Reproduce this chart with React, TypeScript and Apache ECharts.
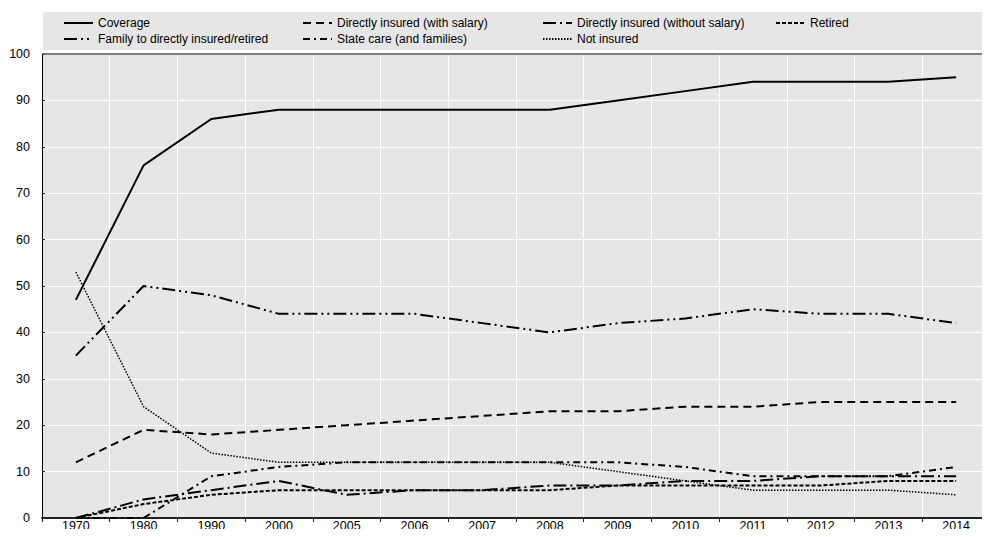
import React, { useEffect, useRef } from "react";
import * as echarts from "echarts";

const years = ["1970", "1980", "1990", "2000", "2005", "2006", "2007", "2008", "2009", "2010", "2011", "2012", "2013", "2014"];
const coverage = [47, 76, 86, 88, 88, 88, 88, 88, 90, 92, 94, 94, 94, 95];
const withSalary = [12, 19, 18, 19, 20, 21, 22, 23, 23, 24, 24, 25, 25, 25];
const withoutSalary = [0, 4, 6, 8, 5, 6, 6, 7, 7, 8, 8, 9, 9, 9];
const retired = [0, 3, 5, 6, 6, 6, 6, 6, 7, 7, 7, 7, 8, 8];
const family = [35, 50, 48, 44, 44, 44, 42, 40, 42, 43, 45, 44, 44, 42];
const stateCare = [0, 0, 9, 11, 12, 12, 12, 12, 12, 11, 9, 9, 9, 11];
const notInsured = [53, 24, 14, 12, 12, 12, 12, 12, 10, 8, 6, 6, 6, 5];
const yTicks = [0, 100, 10];

const FONT = "'Liberation Sans', Arial, sans-serif";

export default function App() {
  const ref = useRef<HTMLDivElement>(null);
  useEffect(() => {
    if (!ref.current) return;
    const chart = echarts.init(ref.current, null, { renderer: "svg" });
    const mk = (name: string, data: number[], type: any, width = 2) => ({
      name,
      type: "line",
      data,
      symbol: "none",
      showSymbol: false,
      lineStyle: { color: "#000", width, type },
      itemStyle: { color: "#000" },
      emphasis: { disabled: true },
    });
    const legendCommon = {
      orient: "vertical",
      top: 16,
      itemWidth: 29,
      itemHeight: 10,
      itemGap: 2,
      padding: 0,
      selectedMode: false,
      itemStyle: { opacity: 0 },
      textStyle: { fontFamily: FONT, fontSize: 12, color: "#000", lineHeight: 14 },
    };
    chart.setOption({
      animation: false,
      graphic: [
        { type: "rect", shape: { x: 43, y: 12, width: 960, height: 38 }, style: { fill: "#e6e6e6" }, z: -10 },
        { type: "line", shape: { x1: 42, y1: 54, x2: 1000, y2: 54 }, style: { stroke: "#555", lineWidth: 1.5 }, z: 10 },
      ],
      legend: [
        { ...legendCommon, left: 63, data: ["Coverage", "Family to directly insured/retired"] },
        { ...legendCommon, left: 302, data: ["Directly insured (with salary)", "State care (and families)"] },
        { ...legendCommon, left: 542, data: ["Directly insured (without salary)", "Not insured"] },
        { ...legendCommon, left: 775, data: ["Retired"] },
      ],
      grid: {
        left: 42,
        top: 54,
        width: 957,
        height: 464,
        show: true,
        backgroundColor: "#e6e6e6",
        borderWidth: 0,
        containLabel: false,
      },
      xAxis: {
        type: "category",
        data: years,
        boundaryGap: true,
        axisLine: { show: true, lineStyle: { color: "#222", width: 2 } },
        axisTick: { show: true, length: 4, lineStyle: { color: "#222", width: 1 } },
        axisLabel: { fontFamily: FONT, fontSize: 12.5, color: "#000", margin: 1, interval: 0 },
        splitLine: { show: true, lineStyle: { color: "#fff", width: 1 } },
      },
      yAxis: {
        type: "value",
        min: yTicks[0],
        max: yTicks[1],
        interval: yTicks[2],
        axisLine: { show: true, lineStyle: { color: "#000", width: 1 } },
        axisTick: { show: true, inside: true, length: 3, lineStyle: { color: "#333" } },
        axisLabel: { fontFamily: FONT, fontSize: 12.5, color: "#000", margin: 12 },
        splitLine: { show: true, lineStyle: { color: "#fff", width: 1 } },
      },
      series: [
        mk("Not insured", notInsured, [1.5, 1.5], 1.5),
        mk("Retired", retired, [4, 2]),
        mk("State care (and families)", stateCare, [7, 4, 2, 4]),
        mk("Directly insured (without salary)", withoutSalary, [13, 4, 2, 4]),
        mk("Family to directly insured/retired", family, [13, 4, 2, 4, 2, 4]),
        mk("Directly insured (with salary)", withSalary, [8, 5]),
        mk("Coverage", coverage, "solid"),
      ],
    });
    return () => chart.dispose();
  }, []);
  return <div ref={ref} style={{ width: 990, height: 537, margin: -8 }} />;
}
